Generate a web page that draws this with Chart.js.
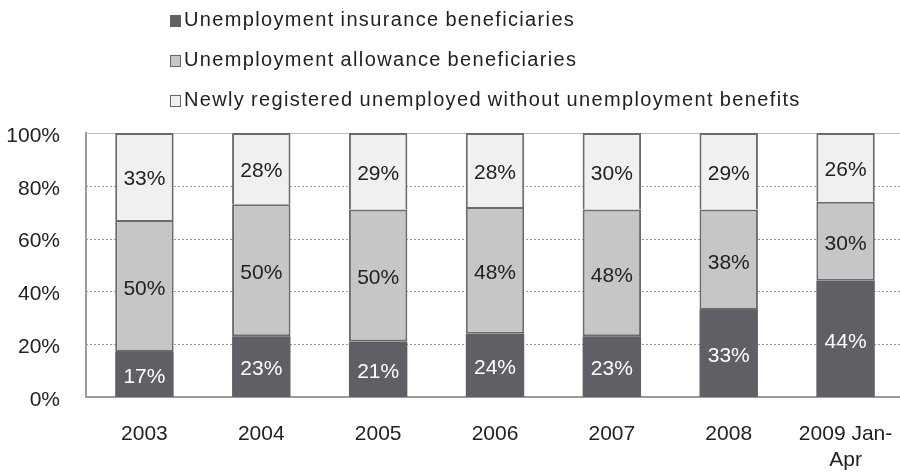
<!DOCTYPE html>
<html>
<head>
<meta charset="utf-8">
<script src="https://cdn.jsdelivr.net/npm/chart.js@4/dist/chart.umd.min.js"></script>
<style>
  html, body { margin: 0; padding: 0; background: #fff; overflow: hidden; }
  #wrap { position: relative; width: 904px; height: 472px; }
  #legend { position: absolute; left: 170px; top: -1px; font-family: "Liberation Sans", Arial, sans-serif;
            font-size: 20px; color: #222; letter-spacing: 1.35px; word-spacing: -1px; }
  #legend div { height: 40px; line-height: 40px; white-space: nowrap; }
  #legend span.box { display: inline-block; width: 9px; height: 10px; border: 1px solid #666;
                     margin-right: 3px; vertical-align: -1px; }
</style>
</head>
<body>
<div id="wrap">
  <canvas id="c" width="904" height="472"></canvas>
  <div id="legend"></div>
</div>
<script>
// 数据
var categories = ['2003', '2004', '2005', '2006', '2007', '2008', ['2009 Jan-', 'Apr']];
var seriesNames = [
  'Unemployment insurance beneficiaries',
  'Unemployment allowance beneficiaries',
  'Newly registered unemployed without unemployment benefits'
];
var insurance = [17, 23, 21, 24, 23, 33, 44];
var allowance = [50, 50, 50, 48, 48, 38, 30];
var newlyReg = [33, 27, 29, 28, 29, 29, 26]; // bar heights as drawn (labels below are as printed)
var insuranceLabels = ['17%', '23%', '21%', '24%', '23%', '33%', '44%'];
var allowanceLabels = ['50%', '50%', '50%', '48%', '48%', '38%', '30%'];
var newlyLabels = ['33%', '28%', '29%', '28%', '30%', '29%', '26%'];
var yTicks = [0, 20, 40, 60, 80, 100];
var yTickLabels = ['0%', '20%', '40%', '60%', '80%', '100%'];

var colors = ['#5f6065', '#c5c6c8', '#f0f0f0'];
var FONT = '"Liberation Sans", Arial, sans-serif';

// legend (html)
var legendBox = document.getElementById('legend');
for (var i = 0; i < seriesNames.length; i++) {
  var row = document.createElement('div');
  var box = document.createElement('span');
  box.className = 'box';
  box.style.background = colors[i];
  if (i === 0) box.style.borderColor = '#5f6065';
  row.appendChild(box);
  row.appendChild(document.createTextNode(seriesNames[i]));
  legendBox.appendChild(row);
}

// 虚线网格
var dottedGrid = {
  id: 'dottedGrid',
  beforeDatasetsDraw: function(chart) {
    var ctx = chart.ctx, y = chart.scales.y, area = chart.chartArea;
    ctx.save();
    ctx.lineWidth = 1;
    for (var k = 1; k < yTicks.length; k++) {
      var py = Math.round(y.getPixelForValue(yTicks[k])) + 0.5;
      if (yTicks[k] === 100) {
        ctx.strokeStyle = '#bdbdbd';
        ctx.setLineDash([]);
      } else {
        ctx.strokeStyle = '#9a9a9a';
        ctx.setLineDash([2, 2]);
      }
      ctx.beginPath();
      ctx.moveTo(area.left, py);
      ctx.lineTo(area.right, py);
      ctx.stroke();
    }
    ctx.restore();
  }
};

// 数据标签
var segLabels = [insuranceLabels, allowanceLabels, newlyLabels];
var barLabels = {
  id: 'barLabels',
  afterDatasetsDraw: function(chart) {
    var ctx = chart.ctx;
    ctx.save();
    ctx.font = '21px ' + FONT;
    ctx.textAlign = 'center';
    ctx.textBaseline = 'middle';
    chart.data.datasets.forEach(function(ds, di) {
      var meta = chart.getDatasetMeta(di);
      meta.data.forEach(function(el, j) {
        var p = el.getProps(['x', 'y', 'base'], true);
        ctx.fillStyle = di === 0 ? '#ffffff' : '#222222';
        ctx.fillText(segLabels[di][j], p.x, (p.y + p.base) / 2 + 3);
      });
    });
    ctx.restore();
  }
};

new Chart(document.getElementById('c'), {
  type: 'bar',
  data: {
    labels: categories,
    datasets: [
      { label: seriesNames[0], data: insurance, backgroundColor: colors[0], borderWidth: 0 },
      { label: seriesNames[1], data: allowance, backgroundColor: colors[1], borderColor: '#6b6b6b', borderWidth: 2, borderSkipped: false },
      { label: seriesNames[2], data: newlyReg, backgroundColor: colors[2], borderColor: '#6b6b6b', borderWidth: 2, borderSkipped: 'start' }
    ]
  },
  options: {
    responsive: false,
    animation: false,
    layout: { autoPadding: false, padding: { left: 6, top: 133, right: 0, bottom: 0 } },
    datasets: { bar: { barPercentage: 0.5, categoryPercentage: 1 } },
    plugins: { legend: { display: false }, tooltip: { enabled: false } },
    scales: {
      x: {
        stacked: true,
        afterFit: function(scale) {
          scale.height = 75;
          scale.paddingLeft = 0;
          scale.paddingRight = 0;
        },
        grid: { display: false, drawTicks: false },
        border: { display: true, color: '#9a9a9a', width: 2 },
        ticks: { color: '#222', font: { family: FONT, size: 21 }, padding: 25, maxRotation: 0, autoSkip: false }
      },
      y: {
        stacked: true,
        min: 0,
        max: 100,
        afterBuildTicks: function(scale) {
          scale.ticks = yTicks.map(function(v) { return { value: v }; });
        },
        afterFit: function(scale) { scale.width = 80; },
        grid: { display: false, drawTicks: false },
        border: { display: true, color: '#9a9a9a', width: 2 },
        ticks: {
          color: '#222',
          font: { family: FONT, size: 21 },
          padding: 26,
          labelOffset: 3,
          callback: function(v, idx) { return yTickLabels[idx]; }
        }
      }
    }
  },
  plugins: [dottedGrid, barLabels]
});
</script>
</body>
</html>
